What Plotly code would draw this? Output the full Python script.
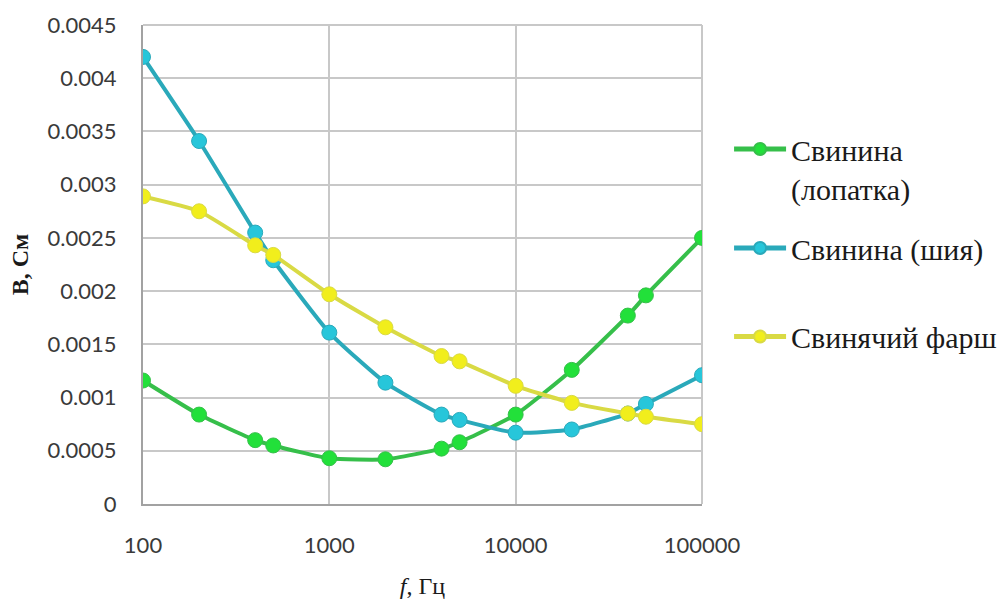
import plotly.graph_objects as go

# Frequency points, Hz
freq = [100, 200, 400, 500, 1000, 2000, 4000, 5000, 10000, 20000, 40000, 50000, 100000]

# Susceptance B, S
pork_shoulder = [0.00116, 0.00084, 0.00060, 0.00055, 0.00043, 0.00042, 0.00052,
                 0.00058, 0.00084, 0.00126, 0.00177, 0.00196, 0.00250]
pork_neck = [0.00420, 0.00341, 0.00255, 0.00229, 0.00161, 0.00114, 0.00084,
             0.00079, 0.00067, 0.00070, 0.00085, 0.00094, 0.00121]
minced_pork = [0.00289, 0.00275, 0.00243, 0.00234, 0.00197, 0.00166, 0.00139,
               0.00134, 0.00111, 0.00095, 0.00085, 0.00082, 0.00075]

series_names = ["Свинина<br>(лопатка)", "Свинина (шия)", "Свинячий фарш"]

x_ticks = [100, 1000, 10000, 100000]
x_tick_labels = ["100", "1000", "10000", "100000"]
y_ticks = [0, 0.0005, 0.001, 0.0015, 0.002, 0.0025, 0.003, 0.0035, 0.004, 0.0045]
y_tick_labels = ["0", "0.0005", "0.001", "0.0015", "0.002", "0.0025",
                 "0.003", "0.0035", "0.004", "0.0045"]

styles = [
    dict(line="#36bf4a", marker="#22e03a", legend="legend", ly=0.720),
    dict(line="#2aa9ba", marker="#27c6da", legend="legend2", ly=0.588),
    dict(line="#d9da44", marker="#f1ee1c", legend="legend3", ly=0.441),
]

fig = go.Figure()
for name, values, st in zip(series_names, [pork_shoulder, pork_neck, minced_pork], styles):
    fig.add_trace(go.Scatter(
        x=freq, y=values, name=name, mode="lines+markers",
        line=dict(color=st["line"], width=4, shape="spline", smoothing=0.5),
        marker=dict(color=st["marker"], size=15, line=dict(color=st["line"], width=1)),
        legend=st["legend"], showlegend=True,
    ))

legend_font = dict(family="Liberation Serif, Times New Roman, serif", size=30, color="#1a1a1a")
legend_common = dict(
    x=0.724, xref="container", yref="container", xanchor="left", yanchor="middle",
    font=legend_font, bgcolor="rgba(0,0,0,0)", itemsizing="constant",
    valign="top", itemwidth=52,
)

tick_font = dict(family="Lato, Open Sans, sans-serif", size=22, color="#3a3a3a")
grid_color = "#c8c8c8"
axis_color = "#a2a2a2"

fig.update_layout(
    width=1007, height=602,
    margin=dict(l=143, r=305, t=25, b=98, autoexpand=False),
    paper_bgcolor="white", plot_bgcolor="white",
    showlegend=True,
    legend=dict(y=styles[0]["ly"], **legend_common),
    legend2=dict(y=styles[1]["ly"], **legend_common),
    legend3=dict(y=styles[2]["ly"], **legend_common),
    xaxis=dict(
        type="log", range=[2, 5],
        tickvals=x_ticks, ticktext=x_tick_labels, tickfont=tick_font,
        showgrid=True, gridcolor=grid_color, gridwidth=2,
        showline=True, linecolor=axis_color, linewidth=2,
        ticks="", ticklabelstandoff=21, zeroline=False,
        title=dict(text="<i>f</i>, Гц", standoff=20,
                   font=dict(family="Liberation Serif, Times New Roman, serif", size=24, color="#1a1a1a")),
    ),
    yaxis=dict(
        range=[0, 0.0045],
        tickvals=y_ticks, ticktext=y_tick_labels, tickfont=tick_font,
        showgrid=True, gridcolor=grid_color, gridwidth=2,
        showline=True, linecolor=axis_color, linewidth=2,
        ticks="", ticklabelstandoff=20, zeroline=False,
        title=dict(text="<b>B, См</b>", standoff=12,
                   font=dict(family="Liberation Serif, Times New Roman, serif", size=24, color="#1a1a1a")),
    ),
    shapes=[
        # light frame edges on the top and right of the plot area
        dict(type="line", xref="paper", yref="paper", x0=0, x1=1, y0=1, y1=1,
             line=dict(color=grid_color, width=2), layer="below"),
        dict(type="line", xref="paper", yref="paper", x0=1, x1=1, y0=0, y1=1,
             line=dict(color=grid_color, width=2), layer="below"),
    ],
)

fig.write_html("out.html")
